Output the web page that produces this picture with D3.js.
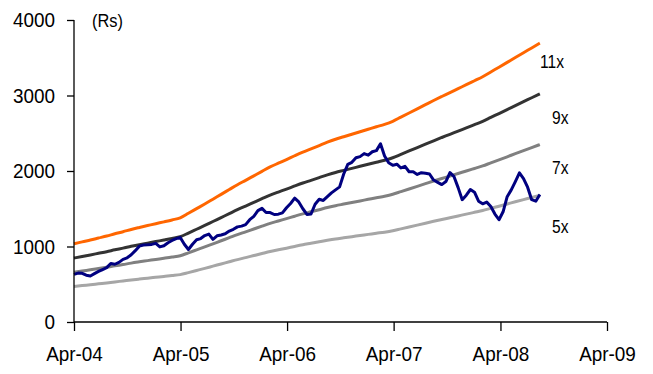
<!DOCTYPE html>
<html>
<head>
<meta charset="utf-8">
<script src="https://cdn.jsdelivr.net/npm/d3@7"></script>
<style>
  html, body { margin: 0; padding: 0; background: #fff; }
  svg { display: block; font-family: "Liberation Sans", Arial, sans-serif; }
</style>
</head>
<body>
<svg id="chart" width="653" height="374"></svg>
<script>
// Share price (Rs), fortnightly closes from April 2004
const priceStart = "2004-04-01";
const priceStepDays = 14;
const price = [
  630, 648, 645, 620, 610, 640, 670, 695, 720, 775,
  765, 790, 830, 850, 890, 945, 1005, 1020, 1022, 1028,
  1042, 995, 1010, 1050, 1080, 1105, 1120, 1030, 960, 1030,
  1090, 1105, 1145, 1165, 1095, 1142, 1153, 1168, 1205, 1228,
  1260, 1270, 1290, 1355, 1400, 1475, 1505, 1450, 1450, 1424,
  1428, 1445, 1513, 1570, 1640, 1590, 1500, 1425, 1430, 1560,
  1625, 1610, 1660, 1710, 1750, 1790, 1960, 2088, 2115, 2175,
  2190, 2230, 2210, 2255, 2270, 2360, 2200, 2110, 2075, 2090,
  2040, 2062, 1990, 1990, 1955, 1978, 1970, 1960, 1880, 1850,
  1820, 1860, 1980, 1925, 1780, 1620, 1680, 1755, 1720, 1600,
  1565, 1588, 1530, 1430, 1355, 1460, 1660, 1750, 1860, 1975,
  1900, 1785, 1620, 1600, 1690
];

// One-year forward EPS (Rs), every four weeks from April 2004
const epsStart = "2004-04-01";
const epsStepDays = 28;
const eps = [
  94.1, 96.5, 98.7, 101.1, 103.5, 106.2, 108.7, 111.4, 113.8, 116.1,
  118.4, 120.6, 122.9, 125.5, 130.9, 136.5, 142.1, 147.9, 153.7, 159.5,
  165.3, 170.6, 176.0, 181.4, 186.7, 191.2, 195.6, 200.2, 204.6, 208.5,
  212.5, 216.5, 220.1, 223.1, 226.1, 229.1, 232.1, 235.1, 238.0, 241.7,
  246.7, 251.7, 256.7, 261.7, 266.7, 271.5, 276.2, 281.0, 285.7, 290.5,
  295.3, 301.1, 306.8, 312.6, 318.5, 324.3, 330.0, 335.8
];

// P/E band multiples and their styles
const multiples = [11, 9, 7, 5];
const bandLabels = ["11x", "9x", "7x", "5x"];
const bandColors = ["#FF6600", "#333333", "#808080", "#A6A6A6"];

// Axis ticks
const yTicks = [0, 1000, 2000, 3000, 4000];
const xTickDates = ["2004-04-01", "2005-04-01", "2006-04-01", "2007-04-01", "2008-04-01", "2009-04-01"];
const unitLabel = "(Rs)";

const parse = d3.timeParse("%Y-%m-%d");
const svg = d3.select("#chart");

// Squeeze text horizontally to a narrow face
function condense(sel, factor) {
  sel.each(function () {
    const w = this.getComputedTextLength();
    d3.select(this).attr("textLength", w * factor).attr("lengthAdjust", "spacingAndGlyphs");
  });
}

const x = d3.scaleTime()
  .domain([parse(xTickDates[0]), parse(xTickDates[xTickDates.length - 1])])
  .range([74, 607]);
const y = d3.scaleLinear().domain([0, 4000]).range([322, 20]);

const priceData = price.map((v, i) => ({ date: d3.timeDay.offset(parse(priceStart), i * priceStepDays), value: v }));
const epsDates = eps.map((v, i) => d3.timeDay.offset(parse(epsStart), i * epsStepDays));

const line = d3.line().x(d => x(d.date)).y(d => y(d.value));
const smoothLine = d3.line().curve(d3.curveMonotoneX).x(d => x(d.date)).y(d => y(d.value));

// P/E bands
multiples.forEach((m, k) => {
  const band = eps.map((e, i) => ({ date: epsDates[i], value: e * m }));
  svg.append("path")
    .datum(band)
    .attr("fill", "none")
    .attr("stroke", bandColors[k])
    .attr("stroke-width", 3)
    .attr("stroke-linejoin", "round")
    .attr("d", smoothLine);
});

// Share price
svg.append("path")
  .datum(priceData)
  .attr("fill", "none")
  .attr("stroke", "#000080")
  .attr("stroke-width", 3)
  .attr("stroke-linejoin", "round")
  .attr("d", line);

// Band labels placed beside the end of each band
const labelPos = [[540, 61], [552, 117], [552, 167], [552, 226]];
const bandText = svg.selectAll(".band-label")
  .data(bandLabels)
  .join("text")
  .attr("class", "band-label")
  .attr("x", (d, k) => labelPos[k][0])
  .attr("y", (d, k) => labelPos[k][1])
  .attr("dy", "0.36em")
  .attr("font-size", 19)
  .attr("fill", "#000")
  .text(d => d);
condense(bandText, 0.82);

// Axes
const yAxis = d3.axisLeft(y).tickValues(yTicks).tickSize(7).tickPadding(12).tickFormat(d3.format("d"));
const gy = svg.append("g").attr("transform", "translate(74,0)").call(yAxis);
const xAxis = d3.axisBottom(x).tickValues(xTickDates.map(parse)).tickSize(9).tickPadding(15).tickFormat(d3.timeFormat("%b-%y"));
const gx = svg.append("g").attr("transform", "translate(0,322)").call(xAxis);

[gx, gy].forEach(g => {
  g.select(".domain").attr("stroke", "#000").attr("stroke-width", 1.3);
  g.selectAll(".tick line").attr("stroke", "#000").attr("stroke-width", 1.3);
  g.selectAll(".tick text").attr("font-size", 21).attr("fill", "#000")
    .attr("font-family", "'Liberation Sans', Arial, sans-serif");
  condense(g.selectAll(".tick text"), 0.9);
});
gy.select(".domain").attr("d", "M0,322V20");
gx.select(".domain").attr("d", "M74,0H607");

const unit = svg.append("text")
  .attr("x", 92)
  .attr("y", 21)
  .attr("dy", "0.36em")
  .attr("font-size", 18)
  .attr("fill", "#000")
  .text(unitLabel);
condense(unit, 0.91);
</script>
</body>
</html>
